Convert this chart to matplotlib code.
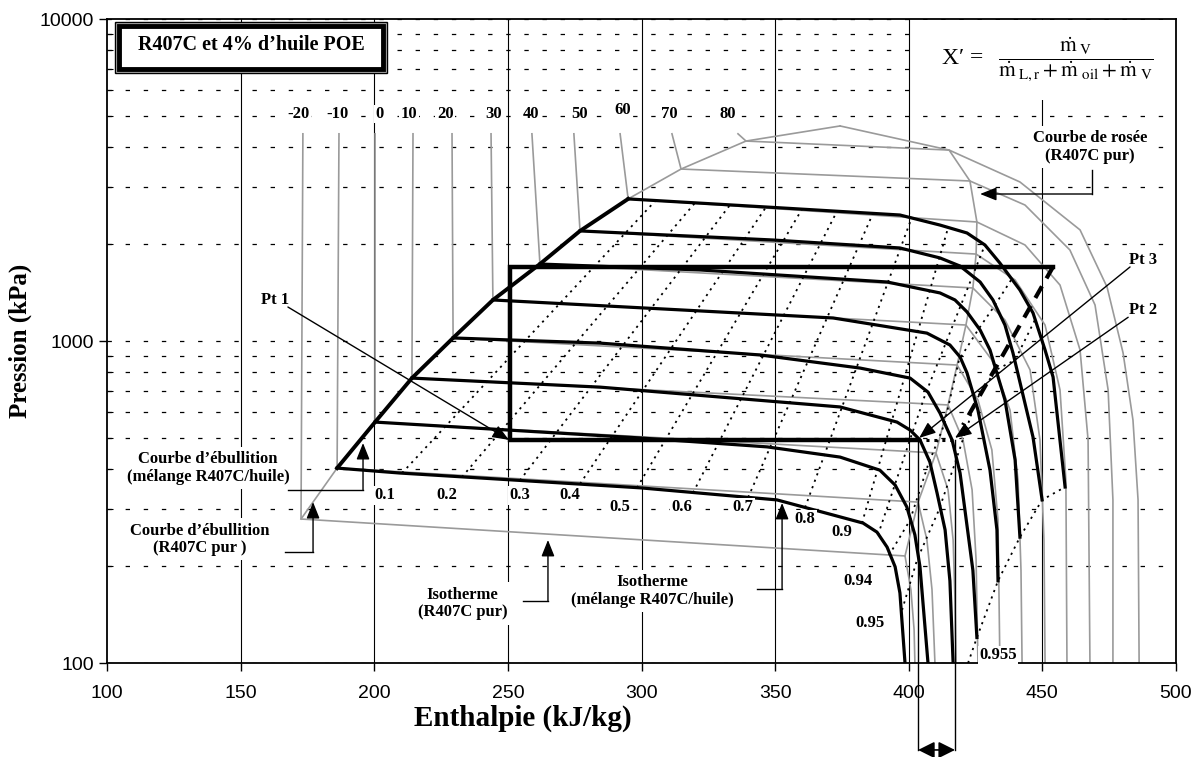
import matplotlib.pyplot as plt
from matplotlib.patches import Rectangle
from matplotlib.ticker import FixedLocator, FuncFormatter, NullFormatter

plt.rcParams['font.family'] = ['Liberation Serif', 'DejaVu Serif']
plt.rcParams['mathtext.fontset'] = 'stix'
plt.rcParams['mathtext.default'] = 'rm'

# ---- pure R407C (grey) ----
pure_temps = [-20, -10, 0, 10, 20, 30, 40, 50, 60, 70, 80]
liq_top_h = [173.3, 186.8, 200.3, 214.5, 229.1, 243.7, 259.0, 274.7, 292.0, 311.4, 336.1]
liq_top_p = 4400
bubble_h = [172.6, 186.1, 200.3, 214.1, 229.5, 244.4, 262.0, 277.0, 295.0, 314.8, 339.1]
bubble_p = [280, 403, 560, 767, 1022, 1341, 1734, 2197, 2762, 3420, 4178]
dew_h = [398.6, 403.5, 410.2, 414.7, 418.1, 421.4, 424.0, 425.2, 425.5, 422.9, 415.1]
dew_p = [215, 316, 449, 633, 842, 1121, 1461, 1862, 2342, 3140, 3917]
crit_h, crit_p = 374.3, 4654
superheat_h = [
    [400.8, 402.0, 402.3],
    [406.8, 408.7, 409.8],
    [414.7, 416.6, 417.3, 417.7],
    [420.3, 423.7, 425.2, 425.9],
    [425.9, 431.1, 433.4, 434.1],
    [431.1, 437.9, 440.9, 442.0, 442.4],
    [436.0, 445.4, 449.1, 450.6, 451.0],
    [439.8, 451.0, 456.6, 458.8, 459.2],
    [443.5, 456.6, 464.1, 467.1, 467.8],
    [443.5, 460.3, 469.7, 474.6, 476.4, 476.4],
    [441.6, 464.1, 474.2, 480.2, 483.9, 485.8, 486.2],
]
superheat_p = [
    [169, 127, 100],
    [241, 169, 100],
    [345, 241, 157, 100],
    [493, 345, 209, 100],
    [656, 459, 278, 100],
    [873, 610, 370, 194, 100],
    [1162, 813, 493, 241, 100],
    [1547, 1121, 705, 370, 100],
    [1987, 1492, 938, 493, 100],
    [2644, 1917, 1294, 705, 321, 100],
    [3118, 2213, 1471, 918, 568, 321, 100],
]

# ---- R407C + oil mixture isotherms (black) ----
mix_temps = [-10, 0, 10, 20, 30, 40, 50, 60]
mix_h = [
    [186.1, 209.6, 299.4, 350.7, 382.9, 388.1, 391.9, 394.9, 396.7, 398.6],
    [200.3, 299.4, 347.0, 374.3, 389.2, 394.9, 399.3, 402.3, 404.2, 407.2],
    [214.1, 284.5, 374.3, 395.6, 400.5, 404.2, 407.9, 410.6, 413.6, 415.4, 416.6],
    [229.5, 284.5, 344.3, 381.8, 400.5, 407.2, 411.7, 416.2, 419.2, 424.0, 425.5],
    [244.4, 371.7, 406.8, 415.4, 419.2, 421.8, 425.9, 430.4, 433.0, 433.4],
    [262.0, 321.9, 391.9, 411.7, 417.3, 421.8, 426.7, 430.4, 436.0, 439.8, 441.6],
    [277.0, 349.2, 396.7, 411.7, 419.2, 426.7, 431.5, 436.0, 439.0, 446.5, 449.9],
    [295.0, 347.0, 396.7, 411.7, 421.8, 428.5, 434.1, 441.6, 446.5, 451.0, 454.0, 458.5],
]
mix_p = [
    [403, 389, 350, 321, 272, 255, 229, 199, 165, 100],
    [560, 500, 469, 436, 397, 357, 305, 250, 199, 100],
    [767, 719, 624, 560, 529, 493, 421, 337, 259, 180, 100],
    [1022, 985, 905, 824, 767, 694, 597, 493, 389, 194, 120],
    [1341, 1179, 1058, 972, 892, 796, 610, 397, 259, 180],
    [1734, 1662, 1525, 1410, 1341, 1231, 1082, 938, 656, 427, 246],
    [2197, 2059, 1945, 1811, 1709, 1525, 1341, 1121, 918, 503, 321],
    [2762, 2606, 2462, 2291, 2165, 1987, 1746, 1440, 1222, 938, 773, 352],
]

# ---- constant X' lines (dotted) ----
q_low = ['0.1', '0.2', '0.3', '0.4', '0.5', '0.6', '0.7', '0.8', '0.9']
q_low_h = [[210.4, 305.1], [232.8, 320.0], [254.5, 333.1], [277.0, 346.6], [298.3, 360.1],
           [319.3, 373.2], [339.9, 386.6], [361.2, 401.2], [382.5, 414.7]]
q_low_p = [[389, 2721], [378, 2684], [369, 2644], [360, 2606], [350, 2570],
           [338, 2533], [327, 2489], [304, 2427], [272, 2244]]
q092_h = [388.5, 406.1, 428.5]
q092_p = [250, 680, 1987]
q094_h = [392.6, 400.5, 407.2, 413.2, 418.8, 425.9, 432.3, 438.3]
q094_p = [216, 278, 412, 548, 873, 1082, 1294, 1547]
q095_h = [397.5, 403.1, 411.3, 417.7, 425.2, 432.6, 439.8, 447.2]
q095_p = [146, 209, 299, 427, 656, 813, 873, 1162]
q0955_h = [422.2, 425.5, 433.4, 441.6, 449.9, 458.5]
q0955_p = [100, 120, 180, 246, 321, 352]

# ---- cycle ----
cycle_h = [403.5, 250.8, 250.8, 454.0]
cycle_p = [492, 492, 1700, 1700]
comp_h = [454.0, 420.3]
comp_p = [1700, 548]
pt1 = (250.8, 492)
pt2 = (417.3, 492)
pt3 = (403.5, 492)
p_glide = 53.7

fig = plt.figure(figsize=(12.04, 7.57), dpi=100)
ax = fig.add_axes([107 / 1204, 1 - 663 / 757, 1069 / 1204, 644 / 757])
ax.set_yscale('log')
ax.set_xlim(100, 500)
ax.set_ylim(100, 10000)

# grid
for xv in [150, 200, 250, 300, 350, 400, 450]:
    ax.axvline(xv, color='black', lw=0.8, zorder=0.5)
ax.grid(which='both', axis='y', color='black', lw=0.9, ls=(0, (3.5, 11)), zorder=0.5)
ax.grid(which='both', axis='x', visible=False)

grey = '#9a9a9a'
for i in range(len(pure_temps)):
    hs = [liq_top_h[i], bubble_h[i], dew_h[i]] + superheat_h[i]
    ps = [liq_top_p, bubble_p[i], dew_p[i]] + superheat_p[i]
    ax.plot(hs, ps, color=grey, lw=1.2, zorder=2)
ax.plot(bubble_h + [crit_h], bubble_p + [crit_p], color=grey, lw=1.2, zorder=2)
ax.plot([crit_h] + dew_h[::-1], [crit_p] + dew_p[::-1], color=grey, lw=1.2, zorder=2)

dot = (0, (1.2, 2.6))
for hs, ps in zip(q_low_h, q_low_p):
    ax.plot(hs, ps, color='black', lw=1.3, ls=dot, zorder=3)
for hs, ps in [(q092_h, q092_p), (q094_h, q094_p), (q095_h, q095_p), (q0955_h, q0955_p)]:
    ax.plot(hs, ps, color='black', lw=1.3, ls=dot, zorder=3)

for hs, ps in zip(mix_h, mix_p):
    ax.plot(hs, ps, color='black', lw=2.3, zorder=4, solid_joinstyle='round')
ax.plot([h[0] for h in mix_h], [p[0] for p in mix_p], color='black', lw=2.8, zorder=4)

ax.plot(cycle_h, cycle_p, color='black', lw=3.2, zorder=5, solid_joinstyle='miter')
ax.plot(comp_h, comp_p, color='black', lw=3.0, ls=(0, (3.2, 2.2)), zorder=5)
ax.plot([pt3[0], pt2[0]], [pt3[1], pt2[1]], color='black', lw=2.2, ls=(0, (1, 1.6)), zorder=5)
for h in [pt3[0], pt2[0]]:
    ax.plot([h, h], [pt3[1], p_glide], color='black', lw=1, clip_on=False, zorder=5)
ax.annotate('', xy=(pt3[0], p_glide), xytext=(pt2[0], p_glide), annotation_clip=False,
            arrowprops=dict(arrowstyle='<|-|>,head_length=0.5,head_width=0.25', color='black',
                            lw=1.2, mutation_scale=20, shrinkA=0, shrinkB=0))

# axes styling
ax.xaxis.set_major_locator(FixedLocator([100, 150, 200, 250, 300, 350, 400, 450, 500]))
ax.yaxis.set_major_formatter(FuncFormatter(lambda v, _: f'{v:.0f}'))
ax.yaxis.set_minor_formatter(NullFormatter())
ax.tick_params(which='major', direction='out', length=6, width=1, labelsize=14)
ax.tick_params(which='minor', direction='in', length=4, width=0.8)
ax.tick_params(axis='x', pad=10)
for lab in ax.get_xticklabels() + ax.get_yticklabels():
    lab.set_family(['Liberation Sans', 'DejaVu Sans'])
for sp in ax.spines.values():
    sp.set_linewidth(1.3)
fig.text(523 / 1204, 1 - 718 / 757, 'Enthalpie (kJ/kg)', fontsize=21, fontweight='bold',
         ha='center', va='center')
fig.text(20 / 1204, 1 - 341 / 757, 'Pression (kPa)', fontsize=18, fontweight='bold',
         ha='center', va='center', rotation=90)

box = dict(boxstyle='square,pad=0.08', fc='white', ec='none')
tk = dict(fontsize=12, fontweight='bold', ha='center', va='center', zorder=6)

# temperature labels
temp_lab_h = [171.8, 186.1, 201.8, 213.0, 226.5, 244.8, 258.7, 277.0, 293.1, 310.3, 332.4]
temp_lab_p = [5070] * 8 + [5213, 5070, 5070]
for t, h, p in zip(pure_temps, temp_lab_h, temp_lab_p):
    ax.text(h, p, str(t), bbox=box, **tk)

# quality labels
q_lab = ['0.1', '0.2', '0.3', '0.4', '0.5', '0.6', '0.7', '0.8', '0.9', '0.94', '0.95', '0.955']
q_lab_h = [204.0, 227.2, 254.5, 273.2, 292.0, 315.2, 338.0, 361.2, 375.0, 381.0, 385.5, 433.4]
q_lab_p = [332, 332, 332, 332, 305, 305, 305, 280, 255, 180, 133, 106]
for s, h, p in zip(q_lab, q_lab_h, q_lab_p):
    ax.text(h, p, s, bbox=box, **tk)

# annotation texts
tb = dict(boxstyle='square,pad=0.25', fc='white', ec='none')
ann = dict(fontsize=12, fontweight='bold', ha='center', va='center', zorder=6, linespacing=1.15)
ax.text(137.8, 404, 'Courbe d’ébullition\n(mélange R407C/huile)', bbox=tb, **ann)
ax.text(134.8, 242, 'Courbe d’ébullition\n(R407C pur )', bbox=tb, **ann)
ax.text(233.0, 153, 'Isotherme\n(R407C pur)', bbox=tb, **ann)
ax.text(303.9, 167, 'Isotherme\n(mélange R407C/huile)', bbox=tb, **ann)
ax.text(467.8, 4000, 'Courbe de rosée\n(R407C pur)', bbox=tb, **ann)
ax.text(162.9, 1341, 'Pt 1', **ann)
ax.text(487.7, 1785, 'Pt 3', **ann)
ax.text(487.7, 1249, 'Pt 2', **ann)

arrow = dict(arrowstyle='-|>,head_length=0.5,head_width=0.2', color='black', lw=1,
             mutation_scale=20, shrinkA=0, shrinkB=0)
lk = dict(color='black', lw=1, zorder=7)


def elbow(xs, ys, tip):
    ax.plot(xs, ys, **lk)
    ax.annotate('', xy=tip, xytext=(xs[-1], ys[-1]), arrowprops=arrow, zorder=7)


ax.annotate('', xy=(250.4, 493), xytext=(167.7, 1275), arrowprops=arrow, zorder=7)
ax.annotate('', xy=(403.9, 500), xytext=(482.8, 1698), arrowprops=arrow, zorder=7)
ax.annotate('', xy=(417.3, 500), xytext=(482.1, 1185), arrowprops=arrow, zorder=7)
elbow([468.6, 468.6], [3397, 2861], (426.7, 2861))
elbow([167.7, 195.8], [345, 345], (195.8, 482))
elbow([166.6, 177.1], [221, 221], (177.1, 316))
elbow([255.7, 265.0], [156, 156], (265.0, 241))
elbow([343.2, 352.6], [170, 170], (352.6, 314))

# title box
tr = ax.transAxes
ax.add_patch(Rectangle((0.0075, 0.9162), 0.2544, 0.0792, transform=tr, fc='#b8b8b8',
                       ec='black', lw=1, zorder=8))
ax.add_patch(Rectangle((0.0112, 0.9224), 0.2470, 0.0667, transform=tr, fc='white',
                       ec='black', lw=3.5, zorder=8))
ax.text(0.1347, 0.9596, 'R407C et 4% d’huile POE', transform=tr, fontsize=14.5,
        fontweight='bold', ha='center', va='center', zorder=9)

# formula box
ax.add_patch(Rectangle((0.756, 0.874), 0.242, 0.125, transform=tr, fc='white', ec='none', zorder=8))
ax.text(0.800, 0.939, 'X′ =', transform=tr, fontsize=17, ha='center', va='center', zorder=9)
ax.text(0.906, 0.937,
        r"$\dfrac{\dot{m}_{\ V}}{\dot{m}_{\ L,r} + \dot{m}_{\ oil} + \dot{m}_{\ V}}$",
        transform=tr, fontsize=15.5, ha='center', va='center', zorder=9)

fig.savefig('out.png', dpi=100)
